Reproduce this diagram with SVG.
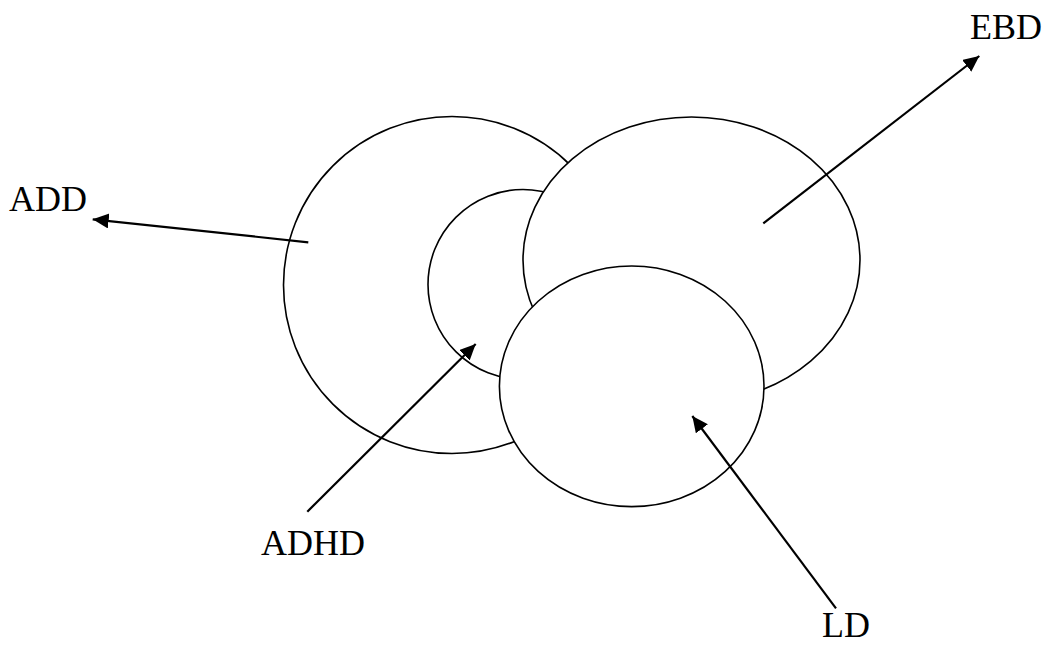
<svg xmlns="http://www.w3.org/2000/svg" width="1051" height="645" viewBox="0 0 1051 645">
<style>
.shape{fill:#fff;stroke:#000;stroke-width:1.6}
.conn{stroke:#000;stroke-width:2.2;fill:none}
.lbl{font-family:"Liberation Serif","Times New Roman",serif;font-size:36px;fill:#000}
</style>
<defs>
<marker id="arr" markerUnits="userSpaceOnUse" markerWidth="20" markerHeight="20" refX="16" refY="7.5" orient="auto">
<path d="M0,0 L16,7.5 L0,15 Z" fill="#000"/>
</marker>
</defs>
<rect width="1051" height="645" fill="#fff"/>
<g id="ADD-node"><circle class="shape" cx="452" cy="285" r="168.5"/></g>
<g id="ADHD-node"><circle class="shape" cx="523" cy="284.5" r="95"/></g>
<g id="EBD-node"><ellipse class="shape" cx="691.5" cy="260" rx="168.5" ry="143"/></g>
<g id="LD-node"><ellipse class="shape" cx="631.7" cy="386.3" rx="132.3" ry="120.3"/></g>
<g id="connectors">
<line class="conn" x1="308.3" y1="242.3" x2="92.7" y2="219.3" marker-end="url(#arr)"/>
<line class="conn" x1="307.3" y1="511.7" x2="475.7" y2="344" marker-end="url(#arr)"/>
<line class="conn" x1="763.3" y1="223.3" x2="979.3" y2="56" marker-end="url(#arr)"/>
<line class="conn" x1="836" y1="608.3" x2="692.3" y2="416" marker-end="url(#arr)"/>
</g>
<g id="labels">
<text class="lbl" x="9" y="210.7">ADD</text>
<text class="lbl" x="261" y="555">ADHD</text>
<text class="lbl" x="970" y="39.3">EBD</text>
<text class="lbl" x="822" y="636.5">LD</text>
</g>
</svg>
